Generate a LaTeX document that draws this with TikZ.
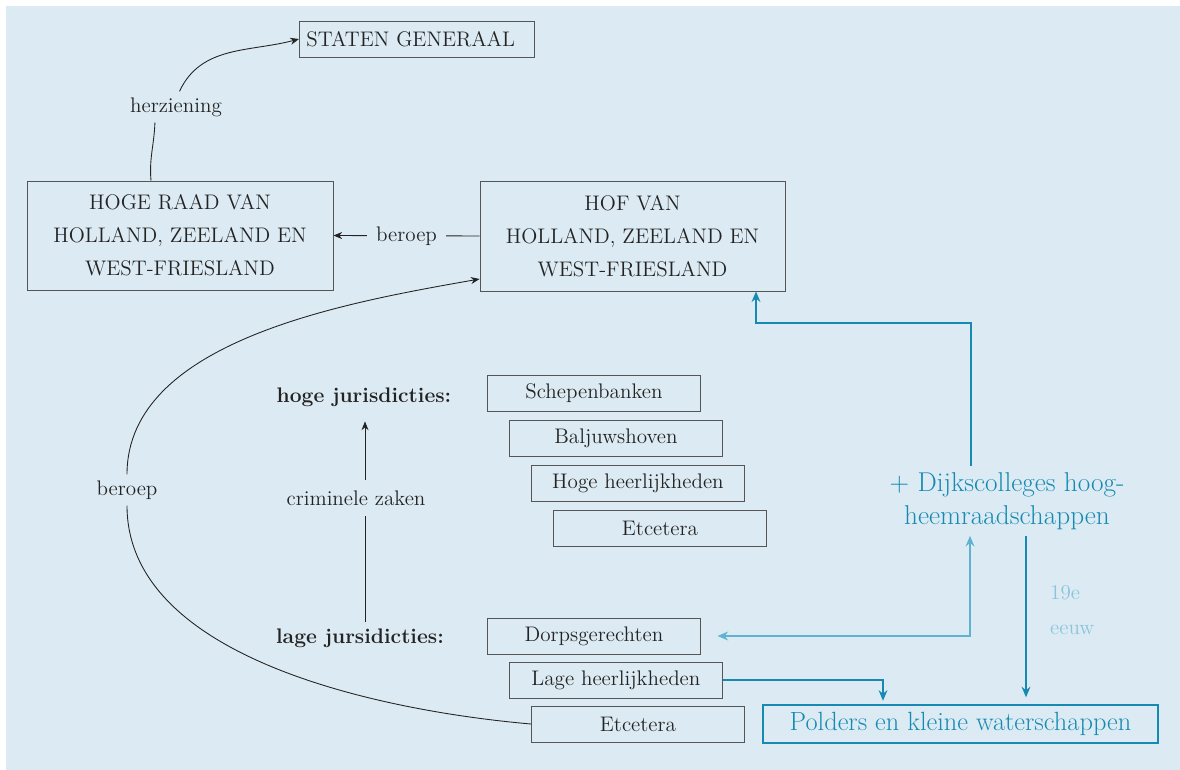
\documentclass[tikz,border=0pt]{standalone}
\usetikzlibrary{arrows.meta,positioning}

\definecolor{bgblue}{RGB}{220,235,243}
\definecolor{inkgray}{RGB}{35,35,35}
\definecolor{boxgray}{RGB}{85,85,85}
\definecolor{waterteal}{RGB}{22,138,178}
\definecolor{lightteal}{RGB}{95,178,208}
\definecolor{paleteal}{RGB}{140,196,220}

\tikzset{
  court/.style={draw=boxgray, line width=0.5pt, text=inkgray, align=center,
    font=\fontsize{12}{18.8}\selectfont},
  jur/.style={court, minimum width=4.26cm, minimum height=0.72cm, anchor=west},
  lbl/.style={text=inkgray, font=\fontsize{12}{14}\selectfont},
  link/.style={draw=inkgray, line width=0.5pt},
  blacktip/.style={-{Stealth[length=5pt,width=4pt]}},
  water/.style={draw=waterteal, line width=1.4pt, -{Stealth[length=6pt,width=5pt]}},
}

\begin{document}
\begin{tikzpicture}[x=0.02cm, y=0.02cm]

% Background
\fill[bgblue] (6,-6) rectangle (1180,-770);
\useasboundingbox (0,0) rectangle (1180,-770);

% Courts at the top
\node[court, anchor=west, minimum width=4.7cm, minimum height=0.72cm,
  text width=4.7cm-8pt, inner xsep=4pt, align=left] (sg) at (299,-39) {STATEN GENERAAL};
\node[court, minimum width=6.12cm, minimum height=2.18cm] (hr) at (180,-235.5)
  {HOGE RAAD VAN\\HOLLAND, ZEELAND EN\\WEST-FRIESLAND};
\node[court, minimum width=6.1cm, minimum height=2.2cm] (hof) at (632.5,-236)
  {HOF VAN\\HOLLAND, ZEELAND EN\\WEST-FRIESLAND};

\node[lbl] (herz) at (176,-107) {herziening};
\draw[link] (hr.north -| 151,0) to[out=95,in=-92] ([xshift=-12pt]herz.south);
\draw[link, blacktip] ([xshift=2pt]herz.north) to[out=65,in=195] (sg.west);

\draw[link, blacktip] (hof.west) -- node[lbl, fill=bgblue, inner xsep=5pt] (berm) {beroep} (hr.east);

% Jurisdictions
\node[lbl, font=\fontsize{12}{14}\selectfont\bfseries] (hoge) at (364,-397) {hoge jurisdicties:};
\node[lbl, font=\fontsize{12}{14}\selectfont\bfseries] (lage) at (360,-638) {lage jursidicties:};
\node[lbl, inner ysep=6pt] (crim) at (356,-498) {criminele zaken};
\draw[link] (lage.north -| 365,0) -- (crim.south -| 365,0);
\draw[link, blacktip, shorten >=5pt] (crim.north -| 365,0) -- (hoge.south -| 365,0);

\foreach \name/\txt [count=\i] in {scb/Schepenbanken, blj/Baljuwshoven,
    hgh/Hoge heerlijkheden, etca/Etcetera} {
  \node[jur] (\name) at (487+22*\i-22, -393-45*\i+45) {\txt};
}
\foreach \name/\txt [count=\i] in {dpg/Dorpsgerechten, lgh/Lage heerlijkheden,
    etcb/Etcetera} {
  \node[jur] (\name) at (487+22*\i-22, -636-44*\i+44) {\txt};
}

% Appeal from the lower courts
\node[lbl] (berl) at (127,-490) {beroep};
\draw[link, blacktip] (etcb.west) to[out=175,in=-90,looseness=0.85] (berl.south)
  (berl.north) to[out=90,in=190,looseness=0.85] (hof.west |- 0,-279);

% Water boards
\node[text=waterteal, align=center, font=\fontsize{15.5}{18.8}\selectfont] (dijk)
  at (1007,-501) {+ Dijkscolleges hoog-\\heemraadschappen};
\node[draw=waterteal, line width=0.8pt, text=waterteal, minimum width=7.9cm,
  minimum height=0.76cm, font=\fontsize{15}{18}\selectfont] (pol)
  at (960.5,-724) {Polders en kleine waterschappen};
\node[text=paleteal, align=left, anchor=west, font=\fontsize{12}{20}\selectfont] (eeuw)
  at (1044,-610) {19e\\eeuw};

\draw[water] (dijk.north -| 971,0) |- (756,-323) -- (hof.south -| 756,0);
\draw[water, draw=lightteal, {Stealth[length=6pt,width=5pt]}-{Stealth[length=6pt,width=5pt]},
  shorten >=9.5pt] (dijk.south -| 970,0) |- (dpg.east);
\draw[water, shorten >=4pt] (dijk.south -| 1026,0) -- (pol.north -| 1026,0);
\draw[water, shorten >=2pt] (lgh.east) -| (pol.north -| 883,0);

\end{tikzpicture}
\end{document}
